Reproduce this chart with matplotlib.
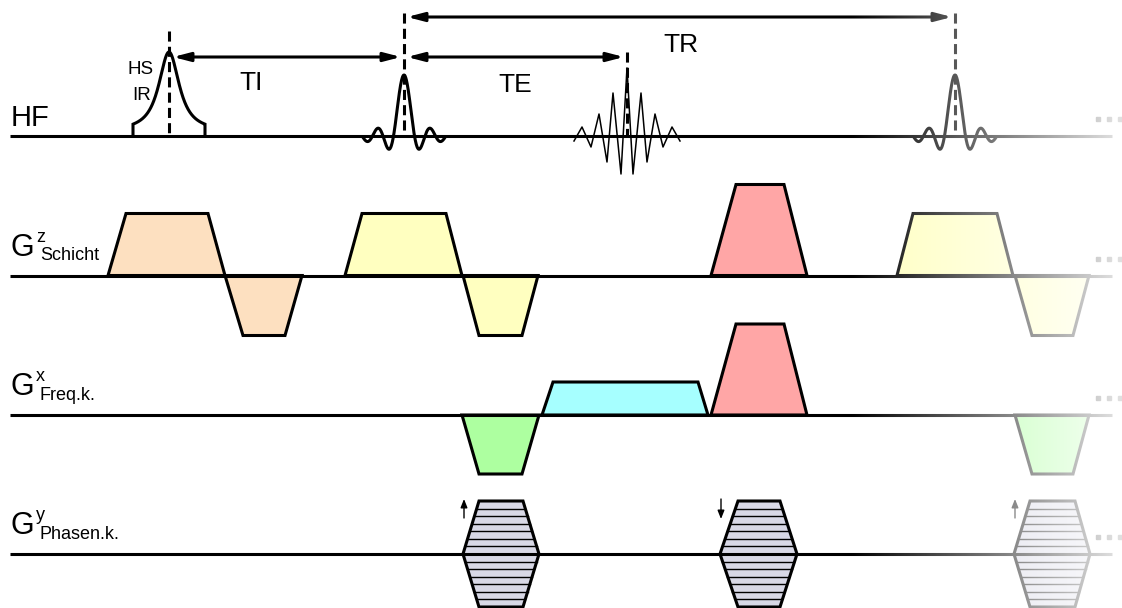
import numpy as np
import matplotlib.pyplot as plt
from matplotlib.patches import Polygon, FancyArrowPatch

plt.rcParams['font.family'] = ['Liberation Sans', 'DejaVu Sans']

# ── Zeichenfläche in Pixeln (y zeigt nach unten) ──
W, H = 1122, 608
LW = 2.2
line_start, line_end = 10, 1112

# ── Kanäle ──
row_base = {'HF': 136, 'Gz': 275.5, 'Gx': 415, 'Gy': 554}
dots_x = [1098, 1109, 1120]

# ── HF: HS-Inversionspuls, sinc-Anregungen, Echo ──
hs_center, hs_height, hs_half = 169, 84, 36
sinc_centers = [404, 955]
sinc_height, sinc_zero, sinc_half = 61, 10.5, 41
echo_center = 627
echo_dt = [-53, -45, -36, -28, -20, -14, -6, 0, 6, 14, 20, 28, 36, 45, 53]
echo_amp = [-5, 9, -11, 22, -26, 43, -38, 68, -38, 43, -26, 22, -11, 9, -5]

# gestrichelte Zeitmarken
marker_x = [169, 404, 627, 955]
marker_top = [31, 13, 52, 13]

# Zeitintervalle
interval_labels = ['TI', 'TE', 'TR']
interval_from = [169, 404, 404]
interval_to = [404, 627, 955]
interval_y = [57, 57, 17]
interval_text_x = [251, 515, 681]
interval_text_y = [90, 92, 52]

# ── Gradienten: (Start, Ende Rampe, Ende Plateau, Ende, Amplitude) ──
gz_lobes = [(108, 126, 208, 225, 62), (225, 243, 285, 302, -60),
            (345, 362, 446, 462, 62), (463, 479, 522, 538, -60),
            (711, 736, 784, 807, 91),
            (897, 913, 997, 1013, 62), (1015, 1032, 1073, 1089, -60)]
gz_colors = ['#fde0c0', '#fde0c0', '#ffffc0', '#ffffc0', '#ffa6a6',
             '#ffffc0', '#ffffc0']

gx_lobes = [(462, 479, 522, 539, -59), (542, 553, 698, 708, 33),
            (711, 736, 784, 807, 91), (1015, 1032, 1073, 1089, -59)]
gx_colors = ['#adffa0', '#a6ffff', '#ffa6a6', '#adffa0']

# Phasenkodiertabellen: (Start, Ende Rampe, Ende Plateau, Ende, Amplitude)
gy_tables = [(463, 479, 523, 539, 53), (720, 738, 780, 797, 53),
             (1014, 1030, 1075, 1090, 53)]
gy_direction = ['up', 'down', 'up']
gy_steps = 7
gy_color = '#d8d8e6'

fig = plt.figure(figsize=(W / 100, H / 100), dpi=100)
ax = fig.add_axes([0, 0, 1, 1])

# ── Grundlinien und Fortsetzungspunkte ──
for name, base in row_base.items():
    ax.plot([line_start, line_end], [base, base], color='black', lw=LW,
            solid_capstyle='butt', zorder=3)
    ax.plot(dots_x, [base - 17] * 3, ls='none', marker='s', ms=2.6,
            color='black', zorder=3)

# ── HF-Kanal ──
b = row_base['HF']
t = np.linspace(-hs_half, hs_half, 300)
env = 0.83 / np.cosh(0.12 * t) + 0.17 / np.cosh(0.025 * t)
hs_x = np.concatenate([[hs_center - hs_half], hs_center + t, [hs_center + hs_half]])
hs_y = np.concatenate([[b], b - hs_height * env, [b]])
ax.plot(hs_x, hs_y, color='black', lw=LW, solid_joinstyle='miter', zorder=4)

t = np.linspace(-sinc_half, sinc_half, 400)
for c in sinc_centers:
    ax.plot(c + t, b - sinc_height * np.sinc(t / sinc_zero), color='black',
            lw=LW, solid_capstyle='round', zorder=4)

ax.plot(echo_center + np.array(echo_dt), b - np.array(echo_amp),
        color='black', lw=1.1, zorder=4)

for x, top in zip(marker_x, marker_top):
    ax.plot([x, x], [top, b + 1], color='black', lw=LW,
            ls=(0, (3.3, 1.7)), zorder=5)

for lab, x0, x1, y, tx, ty in zip(interval_labels, interval_from, interval_to,
                                  interval_y, interval_text_x, interval_text_y):
    x0 = x0 + 4 if lab == 'TI' else x0 + 3
    ax.add_patch(FancyArrowPatch((x0, y), (x1 - 3, y),
                                 arrowstyle='<|-|>,head_length=1.0,head_width=0.26',
                                 mutation_scale=10, lw=LW, color='black',
                                 shrinkA=0, shrinkB=0, zorder=5))
    ax.text(tx, ty, lab, fontsize=19, ha='center', va='baseline')

ax.text(154, 74, 'HS', fontsize=13.5, ha='right', va='baseline')
ax.text(151, 100, 'IR', fontsize=13.5, ha='right', va='baseline')

# ── Gradientenkanäle ──
def trapezoid(lobe, base, color):
    t0, t1, t2, t3, amp = lobe
    verts = [(t0, base), (t1, base - amp), (t2, base - amp), (t3, base)]
    ax.add_patch(Polygon(verts, closed=True, fc=color, ec='black', lw=LW,
                         joinstyle='miter', zorder=2))

for lobe, col in zip(gz_lobes, gz_colors):
    trapezoid(lobe, row_base['Gz'], col)
for lobe, col in zip(gx_lobes, gx_colors):
    trapezoid(lobe, row_base['Gx'], col)

b = row_base['Gy']
for (t0, t1, t2, t3, amp), d in zip(gy_tables, gy_direction):
    verts = [(t0, b), (t1, b - amp), (t2, b - amp), (t3, b),
             (t2, b + amp), (t1, b + amp)]
    ax.add_patch(Polygon(verts, closed=True, fc=gy_color, ec='black', lw=LW,
                         joinstyle='miter', zorder=2))
    c = (t0 + t3) / 2
    hw0, hw1 = (t3 - t0) / 2, (t2 - t1) / 2
    for k in range(1, gy_steps):
        h = amp * k / gy_steps
        hw = hw0 - (hw0 - hw1) * h / amp
        for y in (b - h, b + h):
            ax.plot([c - hw, c + hw], [y, y], color='black', lw=1.0, zorder=2)
    tail, tip = (b - 36, b - 55) if d == 'up' else (b - 55, b - 35)
    ax.annotate('', xy=(t0 + 1, tip), xytext=(t0 + 1, tail),
                arrowprops=dict(arrowstyle='-|>,head_length=0.5,head_width=0.2',
                                mutation_scale=10, lw=1.0, color='black',
                                shrinkA=0, shrinkB=0), zorder=5)

# ── Beschriftung der Kanäle ──
ax.text(11, row_base['HF'] - 10, 'HF', fontsize=21, va='baseline')
for name, sup, sub in [('Gz', 'z', 'Schicht'), ('Gx', 'x', 'Freq.k.'),
                       ('Gy', 'y', 'Phasen.k.')]:
    base = row_base[name]
    ax.text(11, base - 20, 'G', fontsize=22, va='baseline')
    ax.text(36, base - 34, sup, fontsize=13, va='baseline')
    ax.text(40, base - 15, sub, fontsize=13, va='baseline')

# ── Ausblenden nach rechts (Wiederholung) ──
xs = np.arange(W) + 0.5
fade = np.ones((1, W, 4))
fade[0, :, 3] = np.clip((xs - 850) / (1115 - 850), 0, 1) * 0.88
ax.imshow(fade, extent=(0, W, H, 0), aspect='auto', zorder=20,
          interpolation='bilinear')

ax.set_xlim(0, W)
ax.set_ylim(H, 0)
ax.axis('off')

fig.savefig('out.png', dpi=100, facecolor='white')
plt.close(fig)
